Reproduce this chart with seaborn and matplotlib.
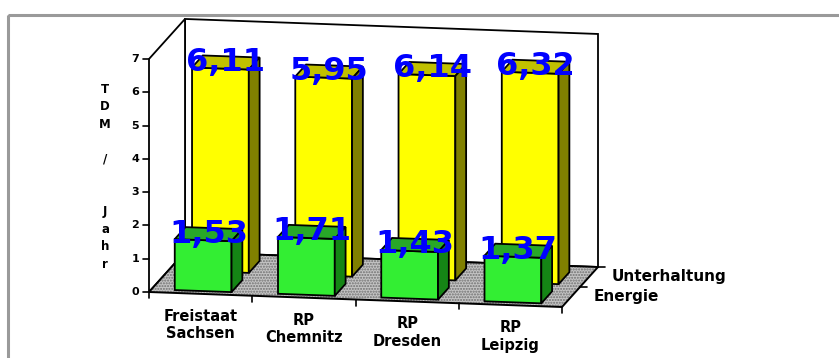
import numpy as np
import matplotlib
matplotlib.use("Agg")
import matplotlib.pyplot as plt
import seaborn as sns
from matplotlib.transforms import Affine2D
from matplotlib.patches import Polygon, Rectangle

# data (TDM / Jahr)
regions = ["Freistaat\nSachsen", "RP\nChemnitz", "RP\nDresden", "RP\nLeipzig"]
energie = [1.53, 1.71, 1.43, 1.37]
unterhaltung = [6.11, 5.95, 6.14, 6.32]
series_names = ["Energie", "Unterhaltung"]
y_ticks = [0, 1, 2, 3, 4, 5, 6, 7]

# oblique 3d projection in pixel space: category x, value v, depth d (0 front .. 1 back wall)
ORIGIN = np.array([149.0, 292.0])
E_U = np.array([103.25, 3.75])
E_V = np.array([0.0, -33.29])
E_D = np.array([36.0, -40.0])


def proj(x, v, d):
    return ORIGIN + (x + 0.5) * E_U + v * E_V + d * E_D


def plane(d):
    o = ORIGIN + 0.5 * E_U + d * E_D
    return Affine2D().from_values(E_U[0], E_U[1], E_V[0], E_V[1], o[0], o[1])


sns.set_theme(style="white")
plt.rcParams["font.family"] = ["DejaVu Sans"]
plt.rcParams["text.color"] = "black"

fig = plt.figure(figsize=(8.39, 3.58), dpi=100)
ax = fig.add_axes([0, 0, 1, 1])

x_lo, x_hi, v_top = -0.5, len(regions) - 0.5, max(y_ticks)

# walls and floor
left_wall = [proj(x_lo, 0, 0), proj(x_lo, v_top, 0), proj(x_lo, v_top, 1), proj(x_lo, 0, 1)]
back_wall = [proj(x_lo, 0, 1), proj(x_lo, v_top, 1), proj(x_hi, v_top, 1), proj(x_hi, 0, 1)]
floor = [proj(x_lo, 0, 0), proj(x_hi, 0, 0), proj(x_hi, 0, 1), proj(x_lo, 0, 1)]
ax.add_patch(Polygon(back_wall, closed=True, facecolor="white", edgecolor="black", lw=1.3, zorder=1))
ax.add_patch(Polygon(left_wall, closed=True, facecolor="white", edgecolor="black", lw=1.3, zorder=1))
ax.add_patch(Polygon(floor, closed=True, facecolor="#c4c4c4", edgecolor="#707070", hatch="......",
                     lw=0, zorder=2))
ax.add_patch(Polygon(floor, closed=True, fill=False, edgecolor="black", lw=1.4, zorder=2))

# bars: back row first so the front row covers it
rows = [
    (unterhaltung, 0.55, ("#ffff00", "#c0c000", "#808000")),
    (energie, 0.07, ("#33ee33", "#28a828", "#158515")),
]
depth = 0.3
for values, d_front, (c_front, c_top, c_side) in rows:
    n0 = len(ax.patches)
    sns.barplot(x=regions, y=values, color=c_front, saturation=1, width=0.55,
                errorbar=None, edgecolor="black", linewidth=1.3, ax=ax)
    d_back = d_front + depth
    for p in ax.patches[n0:]:
        p.set_transform(plane(d_front) + ax.transData)
        p.set_zorder(3 if d_front > 0.3 else 5)
        x0, w, h = p.get_x(), p.get_width(), p.get_height()
        x1 = x0 + w
        top = [proj(x0, h, d_front), proj(x1, h, d_front), proj(x1, h, d_back), proj(x0, h, d_back)]
        side = [proj(x1, 0, d_front), proj(x1, h, d_front), proj(x1, h, d_back), proj(x1, 0, d_back)]
        z = p.get_zorder()
        ax.add_patch(Polygon(top, closed=True, facecolor=c_top, edgecolor="black", lw=1.3, zorder=z))
        ax.add_patch(Polygon(side, closed=True, facecolor=c_side, edgecolor="black", lw=1.3, zorder=z))
        lx, ly = proj(x0 + w / 2, h, d_front + depth / 2)
        ax.text(lx, ly, f"{h:.2f}".replace(".", ","), color="#0000ff", fontsize=23,
                fontweight="bold", ha="center", va="center", zorder=10)

# value axis
for v in y_ticks:
    px, py = proj(x_lo, v, 0)
    ax.plot([px - 6, px], [py, py], color="black", lw=1.2, zorder=6)
    ax.text(px - 10, py, str(v), fontsize=8, fontweight="bold", ha="right", va="center", zorder=6)
ax.text(105, 177, "T\nD\nM\n\n/\n\n\nJ\na\nh\nr", fontsize=8.5, fontweight="bold",
        ha="center", va="center", linespacing=1.45)

# category axis
for i in range(len(regions) + 1):
    px, py = proj(i - 0.5, 0, 0)
    ax.plot([px, px], [py, py + 6], color="black", lw=1.2, zorder=6)
for i, name in enumerate(regions):
    px, py = proj(i, 0, 0)
    ax.text(px, py + 15, name, fontsize=10.5, fontweight="bold", ha="center", va="top",
            linespacing=1.2, zorder=6)

# series (depth) axis
for d in (0.5, 1.0):
    px, py = proj(x_hi, 0, d)
    ax.plot([px, px + 7], [py, py], color="black", lw=1.2, zorder=6)
for name, d in zip(series_names, (0.22, 0.7)):
    px, py = proj(x_hi, 0, d)
    ax.text(px + 24, py - 2, name, fontsize=11, fontweight="bold", ha="left", va="center", zorder=6)

# outer frame
ax.add_patch(Rectangle((7.5, 14.5), 900, 400, fill=False, edgecolor="#9a9a9a", lw=2.2, zorder=0))

ax.set_xlim(0, 839)
ax.set_ylim(358, 0)
ax.axis("off")
fig.savefig("out.png", dpi=100)
